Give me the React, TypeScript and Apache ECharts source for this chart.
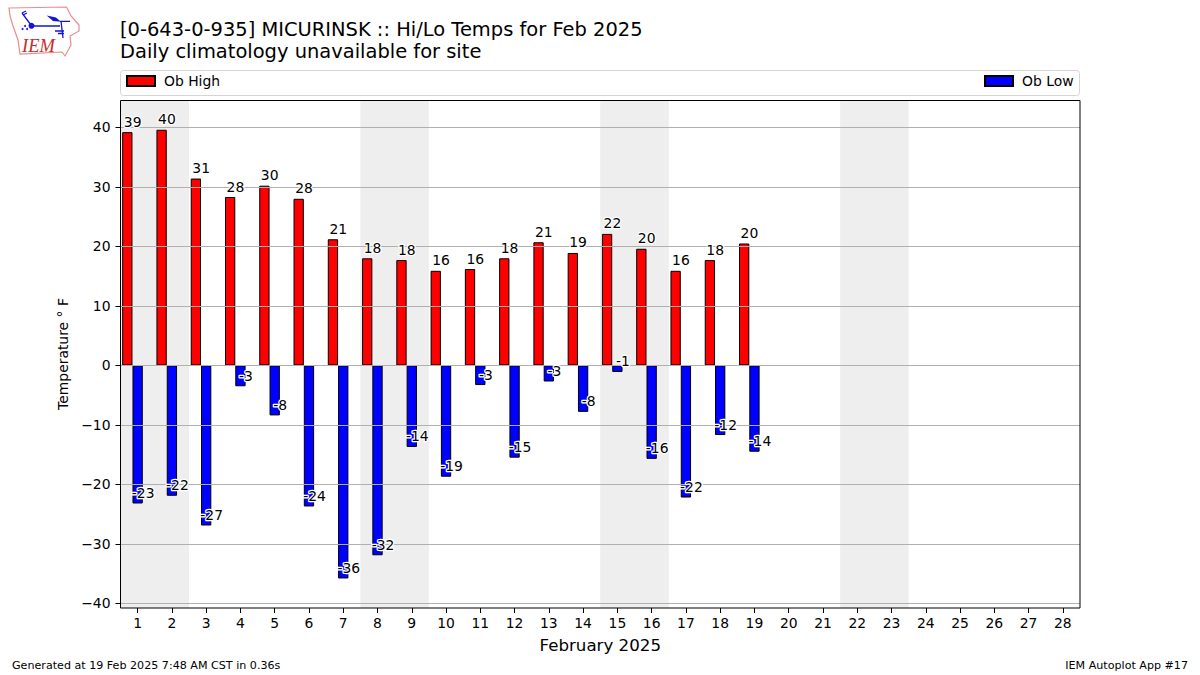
import React, { useEffect, useRef } from "react";
import * as echarts from "echarts";

const days = Array.from({ length: 28 }, (_, i) => String(i + 1));
const obHigh = [39.2, 39.6, 31.4, 28.3, 30.2, 28, 21.2, 18, 17.7, 15.9, 16.2, 18, 20.7, 18.9, 22.1, 19.6, 15.9, 17.7, 20.49];
const obLow = [-23.2, -21.9, -26.9, -3.5, -8.4, -23.7, -35.8, -31.9, -13.7, -18.7, -3.3, -15.5, -2.7, -7.8, -1.1, -15.7, -22.2, -11.7, -14.5];
const weekendSpans = [[1, 2], [8, 9], [15, 16], [22, 23]];
const yTicks = [-40, -30, -20, -10, 0, 10, 20, 30, 40];
const FONT = "DejaVu Sans";

const logoOutline = "M9 8 L66.5 7 L71 16 L79 25 L79 31 L70 36 L71 45 L65 56 L62 52 L20 54 L18 40 L13 26 L10 16 Z";
const logoStation = "M22 13 L31 25 M22 13 L26 11 M23 15 L27 13 M31 26 L60 26 M60 21.3 L70 21.3 M61 21 L63 38 M55 31 L64 31 M58 33.5 L64 33.5";

function pathShape(name: string, d: string) {
  echarts.graphic.registerShape(name, (echarts.graphic as any).extendPath(d, {}));
}
pathShape("iowaOutline", logoOutline);
pathShape("iemStation", logoStation);

function labelSeries(values: number[], dx: number) {
  return {
    type: "scatter",
    z: 6,
    symbolSize: 1,
    itemStyle: { color: "transparent", opacity: 1 },
    silent: true,
    data: values.map((v, i) => [i, v]),
    label: {
      show: true,
      position: "inside",
      offset: [dx, -10.5],
      fontFamily: FONT,
      fontSize: 13.9,
      color: "#000",
      textBorderColor: "#fff",
      textBorderWidth: 2.5,
      formatter: (p: any) => String(Math.round(p.value[1])),
    },
  };
}

export default function App() {
  const ref = useRef<HTMLDivElement>(null);
  useEffect(() => {
    const chart = echarts.init(ref.current!, undefined, { renderer: "svg" });
    const barCommon = {
      type: "bar",
      z: 2,
      barWidth: 10.3,
      barGap: "0%",
    };
    const legendCommon = {
      top: 74,
      padding: 0,
      itemWidth: 28,
      itemHeight: 10,
      itemGap: 0,
      icon: "rect",
      selectedMode: false,
      textStyle: { fontFamily: FONT, fontSize: 13.9, color: "#000", padding: [0, 0, 0, 4] },
    };
    chart.setOption({
      animation: false,
      title: [
        {
          text: "[0-643-0-935] MICURINSK :: Hi/Lo Temps for Feb 2025\nDaily climatology unavailable for site",
          left: 120,
          top: 18,
          padding: 0,
          textStyle: { fontFamily: FONT, fontSize: 19.47, fontWeight: "normal", color: "#000", lineHeight: 22 },
        },
        {
          text: "Generated at 19 Feb 2025 7:48 AM CST in 0.36s",
          left: 12,
          top: 660,
          padding: 0,
          textStyle: { fontFamily: FONT, fontSize: 11.12, fontWeight: "normal", color: "#000" },
        },
        {
          text: "IEM Autoplot App #17",
          right: 12,
          top: 660,
          padding: 0,
          textStyle: { fontFamily: FONT, fontSize: 11.12, fontWeight: "normal", color: "#000" },
        },
      ],
      legend: [
        { ...legendCommon, data: ["Ob High"], left: 126 },
        { ...legendCommon, data: ["Ob Low"], left: 984 },
      ],
      grid: { left: 120.5, right: 120, top: 100, bottom: 67, containLabel: false },
      xAxis: {
        type: "category",
        data: days,
        z: 3,
        boundaryGap: true,
        name: "February 2025",
        nameLocation: "middle",
        nameGap: 29,
        nameTextStyle: { fontFamily: FONT, fontSize: 16.67, color: "#000" },
        axisLine: { show: false, onZero: false },
        axisTick: { show: true, alignWithLabel: true, length: 5, lineStyle: { color: "#000", width: 1 } },
        axisLabel: { interval: 0, margin: 8, fontFamily: FONT, fontSize: 13.9, color: "#000" },
        splitLine: { show: false },
      },
      yAxis: {
        type: "value",
        min: -40.76,
        max: 44.6,
        z: 3,
        name: "Temperature ° F",
        nameLocation: "middle",
        nameGap: 50,
        nameTextStyle: { fontFamily: FONT, fontSize: 13.9, color: "#000" },
        axisLine: { show: false },
        axisTick: { show: true, length: 5, customValues: yTicks, lineStyle: { color: "#000", width: 1 } },
        axisLabel: {
          customValues: yTicks,
          margin: 10,
          fontFamily: FONT,
          fontSize: 13.9,
          color: "#000",
          formatter: (v: number) => (v < 0 ? "\u2212" + Math.abs(v) : String(v)),
        },
        splitLine: { show: true, lineStyle: { color: "#b0b0b0", width: 1 } },
      },
      series: [
        {
          type: "custom",
          z: 1,
          silent: true,
          data: weekendSpans.map(([a, b]) => [a - 1, b - 1]),
          encode: { x: [0, 1] },
          renderItem: (params: any, api: any) => {
            const w = api.size([1, 0])[0];
            const x0 = api.coord([api.value(0), 0])[0] - w / 2;
            const x1 = api.coord([api.value(1), 0])[0] + w / 2;
            const cs = params.coordSys;
            return {
              type: "rect",
              shape: { x: x0, y: cs.y, width: x1 - x0, height: cs.height },
              style: { fill: "#eeeeee" },
            };
          },
        },
        {
          ...barCommon,
          name: "Ob High",
          data: obHigh,
          itemStyle: { color: "#ff0000", borderColor: "#000", borderWidth: 1 },
        },
        {
          ...barCommon,
          name: "Ob Low",
          data: obLow,
          itemStyle: { color: "#0000ff", borderColor: "#000", borderWidth: 1 },
        },
        { ...barCommon, name: "spacer", data: [] },
        labelSeries(obHigh, -5),
        labelSeries(obLow, 5.5),
      ],
      graphic: [
        {
          type: "rect",
          silent: true,
          z: 10,
          shape: { x: 120.5, y: 100.5, width: 959.5, height: 507.5 },
          style: { fill: "none", stroke: "#000", lineWidth: 1 },
        },
        {
          type: "rect",
          silent: true,
          z: 0,
          shape: { x: 120.5, y: 70.5, width: 959, height: 25, r: 3 },
          style: { fill: "#fff", stroke: "#d5d5d5", lineWidth: 1 },
        },
        { type: "iowaOutline", silent: true, z: 1, x: 0, y: 0, style: { fill: "none", stroke: "#e88c8c", lineWidth: 1.2 } },
        { type: "iemStation", silent: true, z: 1, x: 0, y: 0, style: { fill: "none", stroke: "#1414d8", lineWidth: 1.3 } },
        { type: "circle", silent: true, z: 1, shape: { cx: 31.5, cy: 25.8, r: 3 }, style: { fill: "#1414d8" } },
        { type: "polygon", silent: true, z: 1, shape: { points: [[46.7, 15.5], [56, 17.5], [61, 21.8], [53, 21]] }, style: { fill: "#1414d8" } },
        { type: "circle", silent: true, z: 1, shape: { cx: 25, cy: 26, r: 1 }, style: { fill: "#1414d8" } },
        { type: "circle", silent: true, z: 1, shape: { cx: 22.5, cy: 29, r: 1 }, style: { fill: "#1414d8" } },
        { type: "circle", silent: true, z: 1, shape: { cx: 27, cy: 29, r: 1 }, style: { fill: "#1414d8" } },
        {
          type: "text",
          silent: true,
          z: 1,
          x: 22,
          y: 36,
          style: { text: "IEM", fontFamily: "Liberation Serif", fontStyle: "italic", fontSize: 18.5, fill: "#cc2a2a" },
        },
      ],
    });
    return () => chart.dispose();
  }, []);
  return (
    <>
      <style>{"svg text { paint-order: stroke; stroke-linejoin: round; }"}</style>
      <div ref={ref} style={{ position: "absolute", left: 0, top: 0, width: 1200, height: 675 }} />
    </>
  );
}
